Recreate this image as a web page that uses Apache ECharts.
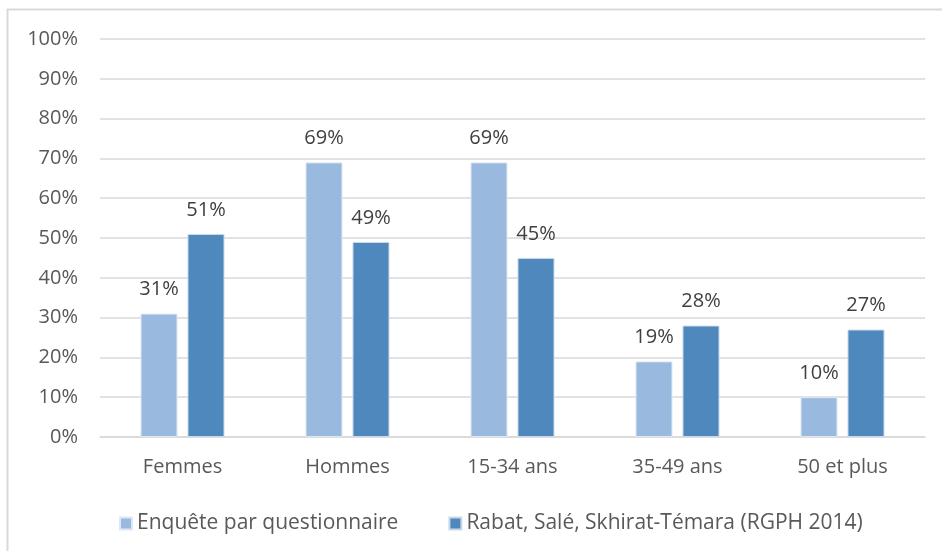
<!DOCTYPE html>
<html>
<head>
<meta charset="utf-8">
<script src="https://cdn.jsdelivr.net/npm/echarts@6/dist/echarts.min.js"></script>
<style>
  html, body { margin: 0; padding: 0; background: #fff; }
  #main { width: 942px; height: 551px; }
</style>
</head>
<body>
<div id="main"></div>
<script>
  var categories = ['Femmes', 'Hommes', '15-34 ans', '35-49 ans', '50 et plus']
  var enquete = [31, 69, 69, 19, 10]
  var rgph = [51, 49, 45, 28, 27]
  var seriesNames = ['Enquête par questionnaire', 'Rabat, Salé, Skhirat-Témara (RGPH 2014)']

  var font = '"Open Sans", sans-serif'
  var myChart = echarts.init(document.getElementById('main'))

  var labelStyle = {
    show: true,
    position: 'top',
    distance: 14,
    color: '#404040',
    fontSize: 20,
    fontFamily: font,
    formatter: '{c}%'
  }

  var option = {
    backgroundColor: '#fff',
    animation: false,
    textStyle: { fontFamily: font },
    graphic: [
      { type: 'line', shape: { x1: 7.5, y1: 9, x2: 7.5, y2: 551 }, style: { stroke: '#d9d9d9', lineWidth: 2 } },
      { type: 'line', shape: { x1: 7, y1: 9.5, x2: 942, y2: 9.5 }, style: { stroke: '#d9d9d9', lineWidth: 2 } }
    ],
    grid: { left: 100, right: 17, top: 39, bottom: 114 },
    legend: {
      top: 508,
      left: 114,
      itemWidth: 12,
      itemHeight: 12,
      itemGap: 50,
      icon: 'rect',
      textStyle: { color: '#595959', fontSize: 21, fontFamily: font },
      data: seriesNames
    },
    xAxis: {
      type: 'category',
      data: categories,
      axisLine: { lineStyle: { color: '#d9d9d9', width: 1.5 } },
      axisTick: { show: false },
      axisLabel: { color: '#595959', fontSize: 20, fontFamily: font, margin: 20 }
    },
    yAxis: {
      type: 'value',
      min: 0,
      max: 100,
      interval: 10,
      axisLine: { show: false },
      axisTick: { show: false },
      splitLine: { lineStyle: { color: '#d9d9d9', width: 1.5 } },
      axisLabel: { color: '#595959', fontSize: 20, fontFamily: font, margin: 22, formatter: '{value}%' }
    },
    series: [
      {
        name: seriesNames[0],
        type: 'bar',
        data: enquete,
        barWidth: 37,
        barGap: '27%',
        itemStyle: { color: '#99b9df', borderColor: '#dfe8f4', borderWidth: 1 },
        label: labelStyle
      },
      {
        name: seriesNames[1],
        type: 'bar',
        data: rgph,
        barWidth: 37,
        itemStyle: { color: '#4f88bc', borderColor: '#c9d9ea', borderWidth: 1 },
        label: labelStyle
      }
    ]
  }
  myChart.setOption(option)
</script>
</body>
</html>
